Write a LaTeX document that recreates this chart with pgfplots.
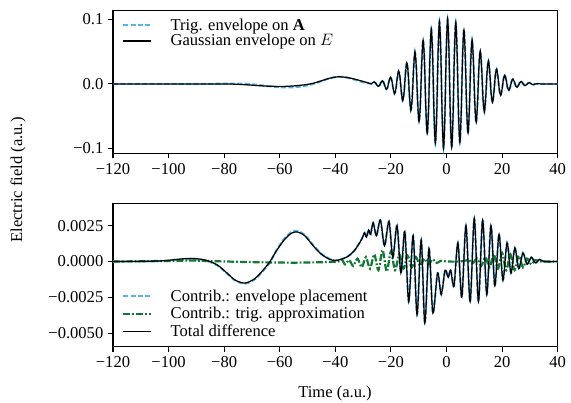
\documentclass[border=0pt]{standalone}
\usepackage{fontspec}
\setmainfont{Liberation Serif}
\usepackage{pgfplots}
\pgfplotsset{compat=1.18}
\usepackage{pgfplotstable}

\definecolor{envblue}{RGB}{86,180,233}
\definecolor{trggreen}{RGB}{17,119,51}

% Top panel: time, Gaussian envelope on E, trigonometric envelope on A
\pgfplotstableread{
t gauss trig
-120 0 0
-100 0 -0.00005
-92 0 -0.0002
-86 0 0
-80 -0.00005 0.0003
-76 -0.0005 0.0004
-72 -0.0014 0.0001
-68 -0.0026 -0.0015
-64 -0.0036 -0.0035
-60 -0.0040 -0.0051
-57 -0.0037 -0.0055
-54 -0.0028 -0.0049
-51 -0.0014 -0.0032
-48 0.0009 -0.0002
-45 0.0048 0.0043
-42 0.0088 0.0087
-39 0.0110 0.0110
-36 0.0101 0.0098
-33 0.0073 0.0065
-30 0.0038 0.0025
-28.5 0.0020 0.0012
-27.04 0.0001 0.0001
-26.55 0.0018 0.0018
-26.06 0.0030 0.0030
-25.57 0.0016 0.0016
-25.08 -0.0016 -0.0016
-24.59 -0.0038 -0.0038
-24.10 -0.0024 -0.0024
-23.61 0.0020 0.0020
-23.12 0.0049 0.0049
-22.63 0.0026 0.0026
-22.14 -0.0039 -0.0039
-21.65 -0.0082 -0.0082
-21.16 -0.0048 -0.0048
-20.67 0.0044 0.0044
-20.18 0.0104 0.0104
-19.69 0.0057 0.0057
-19.20 -0.0070 -0.0070
-18.71 -0.0150 -0.0150
-18.22 -0.0084 -0.0084
-17.73 0.0089 0.0089
-17.24 0.0197 0.0197
-16.75 0.0108 0.0108
-16.26 -0.0118 -0.0118
-15.77 -0.0257 -0.0257
-15.28 -0.0140 -0.0140
-14.79 0.0151 0.0151
-14.30 0.0327 0.0327
-13.81 0.0176 0.0176
-13.32 -0.0190 -0.0190
-12.83 -0.0407 -0.0407
-12.34 -0.0218 -0.0218
-11.85 0.0232 0.0232
-11.36 0.0494 0.0494
-10.87 0.0262 0.0262
-10.38 -0.0278 -0.0278
-9.89 -0.0586 -0.0586
-9.40 -0.0309 -0.0309
-8.91 0.0324 0.0324
-8.42 0.0679 0.0679
-7.93 0.0355 0.0355
-7.44 -0.0370 -0.0370
-6.95 -0.0768 -0.0768
-6.46 -0.0398 -0.0398
-5.97 0.0412 0.0412
-5.48 0.0849 0.0849
-4.99 0.0436 0.0436
-4.50 -0.0448 -0.0448
-4.01 -0.0916 -0.0916
-3.52 -0.0467 -0.0467
-3.03 0.0476 0.0476
-2.54 0.0965 0.0965
-2.05 0.0489 0.0489
-1.56 -0.0493 -0.0493
-1.07 -0.0994 -0.0994
-0.58 -0.0499 -0.0499
-0.09 0.0500 0.0500
0.40 0.1005 0.1005
0.89 0.0498 0.0498
1.38 -0.0496 -0.0496
1.87 -0.0984 -0.0984
2.36 -0.0488 -0.0488
2.85 0.0482 0.0482
3.34 0.0951 0.0951
3.83 0.0468 0.0468
4.32 -0.0459 -0.0459
4.81 -0.0900 -0.0900
5.30 -0.0440 -0.0440
5.79 0.0429 0.0429
6.28 0.0836 0.0836
6.77 0.0406 0.0406
7.26 -0.0394 -0.0394
7.75 -0.0761 -0.0761
8.24 -0.0367 -0.0367
8.73 0.0354 0.0354
9.22 0.0680 0.0680
9.71 0.0326 0.0326
10.20 -0.0312 -0.0312
10.69 -0.0595 -0.0595
11.18 -0.0283 -0.0283
11.67 0.0269 0.0269
12.16 0.0511 0.0511
12.65 0.0242 0.0242
13.14 -0.0228 -0.0228
13.63 -0.0430 -0.0430
14.12 -0.0202 -0.0202
14.61 0.0190 0.0190
15.10 0.0355 0.0355
15.59 0.0166 0.0166
16.08 -0.0154 -0.0154
16.57 -0.0287 -0.0287
17.06 -0.0133 -0.0133
17.55 0.0123 0.0123
18.04 0.0228 0.0228
18.53 0.0105 0.0105
19.02 -0.0097 -0.0097
19.51 -0.0177 -0.0177
20.00 -0.0081 -0.0081
20.49 0.0074 0.0074
20.98 0.0135 0.0135
21.47 0.0062 0.0062
21.96 -0.0056 -0.0056
22.45 -0.0101 -0.0101
22.94 -0.0046 -0.0046
23.43 0.0041 0.0041
23.92 0.0074 0.0074
24.41 0.0033 0.0033
24.90 -0.0030 -0.0030
25.39 -0.0053 -0.0053
25.88 -0.0024 -0.0024
26.37 0.0021 0.0021
26.86 0.0038 0.0038
27.35 0.0017 0.0017
27.84 -0.0015 -0.0015
28.33 -0.0026 -0.0026
28.82 -0.0012 -0.0012
29.31 0.0010 0.0010
29.80 0.0018 0.0018
30.29 0.0008 0.0008
30.78 -0.0007 -0.0007
31.27 -0.0012 -0.0012
32.0 0 0
34.0 0 0
40.0 0 0
}\toptable

% Bottom panel: total difference
\pgfplotstableread{
t v
-120 0
-110 0.00001
-102 0.00005
-97 0.00015
-92 0.00022
-88 0.00015
-85 0.0
-82 -0.0003
-79 -0.0008
-76 -0.0013
-72.5 -0.0015
-69 -0.0012
-66 -0.0006
-63.5 0.0
-61 0.0008
-58 0.0016
-55.5 0.0020
-53.5 0.00205
-51 0.0018
-48 0.0011
-45 0.0005
-42 0.00015
-40 0.00007
-38 0.00015
-36 0.0003
-34.5 0.0005
-33 0.0008
-31.6 0.0012
-30.4 0.0016
-29.5 0.0020
-28.8 0.0017
-28.0 0.0022
-27.3 0.0019
-26.4 0.0027
-25.2 0.0018
-23.8 0.0029
-22.3 0.0011
-20.7 0.0028
-19.3 0.0003
-17.8 0.0025
-16.4 -0.0008
-15.0 0.0021
-13.6 -0.0028
-12.0 0.0018
-10.6 -0.0037
-9.1 0.0015
-7.8 -0.0043
-6.3 0.0009
-4.9 -0.0036
-3.2 -0.0008
-1.9 -0.0023
-0.5 -0.0006
0.6 -0.0011
1.5 -0.0006
2.7 -0.0017
4.1 0.0013
5.5 -0.0025
7.0 0.0025
8.5 -0.0028
10.0 0.0030
11.5 -0.0028
13.0 0.0029
14.5 -0.0023
16.0 0.0025
17.4 -0.0017
18.9 0.0019
20.3 -0.0013
21.8 0.0013
23.2 -0.0008
24.6 0.00095
26.0 -0.0005
27.5 0.0006
29.0 -0.0002
30.5 0.0003
32.0 -0.0001
33.5 0.00015
35 0
40 0
}\totaltable

% Bottom panel: contribution of the envelope placement
\pgfplotstableread{
t v
-120 0
-110 0.00001
-102 0.00003
-97 0.00011
-92 0.00015
-88 0.00010
-85 -0.00004
-82 -0.00034
-79 -0.00083
-76 -0.00133
-72.5 -0.00154
-69 -0.00125
-66 -0.00065
-63.5 -0.00006
-61 0.00086
-58 0.00167
-55.5 0.00208
-53.5 0.00212
-51 0.00186
-48 0.00116
-45 0.00054
-42 0.00018
-40 0.00007
-38 0.00015
-36 0.0003
-34.5 0.0005
-33 0.0008
-31.6 0.0012
-30.4 0.0016
-29.5 0.0020
-28.8 0.0017
-28.0 0.0022
-27.3 0.0019
-26.4 0.0027
-25.2 0.0018
-23.8 0.0029
-22.3 0.0011
-20.7 0.0028
-19.3 0.0003
-17.8 0.0025
-16.4 -0.0008
-15.0 0.0021
-13.6 -0.0028
-12.0 0.0018
-10.6 -0.0037
-9.1 0.0015
-7.8 -0.0043
-6.3 0.0009
-4.9 -0.0036
-3.2 -0.0008
-1.9 -0.0023
-0.5 -0.0006
0.6 -0.0011
1.5 -0.0006
2.7 -0.0017
4.1 0.0013
5.5 -0.0025
7.0 0.0025
8.5 -0.0028
10.0 0.0030
11.5 -0.0028
13.0 0.0029
14.5 -0.0023
16.0 0.0025
17.4 -0.0017
18.9 0.0019
20.3 -0.0013
21.8 0.0013
23.2 -0.0008
24.6 0.00095
26.0 -0.0005
27.5 0.0006
29.0 -0.0002
30.5 0.0003
32.0 -0.0001
33.5 0.00015
35 0
40 0
}\envtable

% Bottom panel: contribution of the trigonometric approximation
\pgfplotstableread{
t v
-120 0
-100 0.00004
-92 0.00007
-85 0.00003
-75 -0.00002
-65 -0.00006
-55 -0.00008
-48 -0.00006
-42 -0.00003
-39 0
-37.5 0.0001
-36.5 -0.0002
-35.0 0.0001
-33.6 -0.0003
-32.0 0.0002
-30.5 -0.0004
-29.0 0.0003
-27.5 -0.0005
-26.0 0.0005
-24.5 -0.0006
-23.0 0.0008
-21.5 -0.0007
-20.0 0.0007
-18.5 -0.0006
-17.0 0.0005
-15.5 -0.0005
-14.0 0.0004
-12.5 -0.0004
-11.0 0.0003
-9.5 -0.0003
-8.0 0.0002
-6.5 -0.0002
-5.0 0.00015
-3.5 -0.0001
-2.0 0.00005
0 0
5 0
8 0.0001
9.5 -0.0001
11 0.0002
12.5 -0.0003
14 0.0003
15.5 -0.0004
17 0.0005
18.5 -0.0005
20 0.0006
21.5 -0.0006
23 0.0005
24.5 -0.0006
26 0.0004
27.5 -0.0004
29 0.0002
30.5 -0.0002
32 0.0001
34 0
40 0
}\trigtable

\pgfplotsset{
  panel/.style={
    scale only axis,
    width=322.2pt, height=103.6pt,
    xmin=-120, xmax=40,
    xtick={-120,-100,-80,-60,-40,-20,0,20,40},
    xticklabels={−120,−100,−80,−60,−40,−20,0,20,40},
    scaled y ticks=false,
    tick align=outside, tick pos=left,
    major tick length=3.5pt,
    axis line style={line width=0.8pt},
    every tick/.style={black, line width=0.8pt},
    tick label style={font=\fontsize{12}{14}\selectfont},
    legend cell align=left,
    legend image code/.code={\draw[#1] (0pt,0pt) -- (20pt,0pt);},
    legend style={draw=none, fill=white, fill opacity=0.8, text opacity=1,
      font=\fontsize{12}{14}\selectfont,
      inner xsep=2pt, inner ysep=1pt,
      /tikz/every odd column/.append style={column sep=11.5pt}},
  },
  trigline/.style={envblue, line width=1.5pt, dash pattern=on 3.7pt off 1.6pt},
  gaussline/.style={black, line width=0.9pt},
  greenline/.style={trggreen, line width=1.6pt, dash pattern=on 5pt off 1.5pt on 1.2pt off 1.5pt},
}

\begin{document}
\begin{tikzpicture}[x=0.7246pt, y=0.7246pt, font=\fontsize{12}{14}\selectfont]
\path[use as bounding box] (0,0) rectangle (571,-403);
\coordinate (topsw) at (113,-153.5);
\coordinate (botsw) at (113,-346.7);

\begin{axis}[panel, at={(topsw)}, anchor=south west,
  ymin=-0.1077, ymax=0.1135,
  ytick={-0.1,0,0.1}, yticklabels={−0.1,0.0,0.1},
  legend style={at={(0.014,0.975)}, anchor=north west, row sep=-2.5pt}]
\addplot[trigline, smooth] table[x=t, y=trig] {\toptable};
\addlegendentry{Trig. envelope on \textbf{A}}
\addplot[gaussline, smooth] table[x=t, y=gauss] {\toptable};
\addlegendentry{Gaussian envelope on $E$}
\end{axis}

\begin{axis}[panel, at={(botsw)}, anchor=south west,
  ymin=-0.00594, ymax=0.00403,
  ytick={-0.005,-0.0025,0,0.0025},
  yticklabels={−0.0050,−0.0025,0.0000,0.0025},
  legend style={at={(0.014,0.025)}, anchor=south west, row sep=-1pt}]
\addplot[trigline, smooth] table[x=t, y=v] {\envtable};
\addlegendentry{Contrib.: envelope placement}
\addplot[greenline, smooth] table[x=t, y=v] {\trigtable};
\addlegendentry{Contrib.: trig. approximation}
\addplot[gaussline, smooth] table[x=t, y=v] {\totaltable};
\addlegendentry{Total difference}
\end{axis}

\node[rotate=90] at (18,-180) {Electric field (a.u.)};
\node at (335,-394) {Time (a.u.)};
\end{tikzpicture}
\end{document}
